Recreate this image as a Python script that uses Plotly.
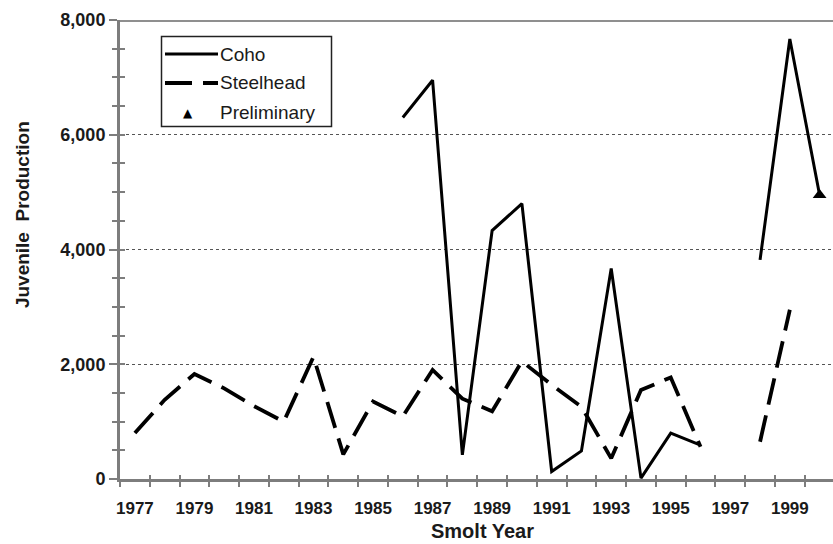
import plotly.graph_objects as go

# Smolt years and juvenile production estimates
years = list(range(1977, 2001))
coho = [None, None, None, None, None, None, None, None, None,
        6300, 6950, 420, 4330, 4800, 130, 490, 3670, 15, 800, 590,
        None, 3820, 7670, 4950]
steelhead = [800, 1380, 1830, 1580, 1270, 1000, 2130, 430, 1350, 1090,
             1900, 1400, 1180, 2050, 1640, 1260, 360, 1550, 1770, 560,
             None, 650, 2950, None]
preliminary_years = [2000]

x_tick_years = list(range(1977, 2000, 2))
x_tick_text = [str(y) for y in x_tick_years]
y_tick_vals = [0, 2000, 4000, 6000, 8000]
y_tick_text = ["0", "2,000", "4,000", "6,000", "8,000"]

prelim_values = [coho[years.index(y)] for y in preliminary_years]

AXIS_GRAY = "#7d7d7d"
FONT = "Liberation Sans, Arial, sans-serif"
NARROW = "Liberation Sans Narrow, Liberation Sans, Arial, sans-serif"

fig = go.Figure()
fig.add_trace(go.Scatter(x=years, y=coho, mode="lines", name="Coho",
                         line=dict(color="black", width=3),
                         connectgaps=False, showlegend=False))
fig.add_trace(go.Scatter(x=years, y=steelhead, mode="lines", name="Steelhead",
                         line=dict(color="black", width=3.8, dash="27px,11px"),
                         connectgaps=False, showlegend=False))
fig.add_trace(go.Scatter(x=preliminary_years, y=prelim_values, mode="markers",
                         name="Preliminary",
                         marker=dict(symbol="triangle-up", size=12, color="black"),
                         showlegend=False))
# invisible trace that carries the inner half of the crossing tick marks
fig.add_trace(go.Scatter(x=[1980], y=[0], xaxis="x2", yaxis="y2", mode="markers",
                         marker=dict(opacity=0), hoverinfo="skip", showlegend=False))

x_range = [1976.5, 2000.45]
y_range = [0, 8000]

fig.update_layout(
    width=833, height=544,
    margin=dict(l=120, r=0, t=20, b=65),
    paper_bgcolor="white", plot_bgcolor="white",
    font=dict(family=FONT, color="#1a1a1a"),
    xaxis=dict(
        range=x_range, tickmode="array", tickvals=x_tick_years, ticktext=x_tick_text,
        ticks="outside", ticklen=12, tickcolor="rgba(0,0,0,0)",
        tickfont=dict(size=17, family=NARROW, color="#1a1a1a", weight="bold"),
        showline=True, linecolor=AXIS_GRAY, linewidth=3,
        showgrid=False, zeroline=False,
        minor=dict(tickmode="linear", tick0=1976.5, dtick=1, ticks="outside",
                   ticklen=5, tickwidth=2, tickcolor=AXIS_GRAY, showgrid=False),
    ),
    yaxis=dict(
        range=y_range, tickmode="array", tickvals=y_tick_vals, ticktext=y_tick_text,
        ticks="outside", ticklen=8, tickwidth=2, tickcolor=AXIS_GRAY,
        tickfont=dict(size=18, family=FONT, color="#1a1a1a", weight="bold"),
        showline=True, linecolor=AXIS_GRAY, linewidth=3,
        showgrid=True, gridcolor="#555555", gridwidth=1.2, griddash="dot",
        zeroline=False,
        minor=dict(tickmode="linear", tick0=0, dtick=500, ticks="outside",
                   ticklen=5, tickwidth=2, tickcolor=AXIS_GRAY, showgrid=False),
    ),
    xaxis2=dict(
        overlaying="x", anchor="y2", range=x_range, showticklabels=False,
        showline=False, showgrid=False, zeroline=False,
        tickmode="linear", tick0=1976.5, dtick=1, ticks="inside",
        ticklen=4, tickwidth=2, tickcolor=AXIS_GRAY,
    ),
    yaxis2=dict(
        overlaying="y", anchor="x2", range=y_range, showticklabels=False,
        showline=False, showgrid=False, zeroline=False,
        tickmode="linear", tick0=0, dtick=500, ticks="inside",
        ticklen=5, tickwidth=2, tickcolor=AXIS_GRAY,
    ),
)

# top frame line at 8,000
fig.add_shape(type="line", xref="paper", yref="y", x0=0, x1=1, y0=8000, y1=8000,
              line=dict(color="#8f8f8f", width=4), layer="above")

# axis titles
fig.add_annotation(text="Smolt Year", xref="paper", yref="paper", x=0.509, y=-0.1133,
                   showarrow=False, yanchor="middle",
                   font=dict(size=20, family=FONT, color="#1a1a1a", weight="bold"))
fig.add_annotation(text="Juvenile  Production", xref="paper", yref="paper",
                   x=-0.1374, y=0.575, textangle=-90, showarrow=False,
                   xanchor="center", yanchor="middle",
                   font=dict(size=19, family=FONT, color="#1a1a1a", weight="bold"))

# legend box
def px_x(px):
    return (px - 120) / 713

def px_y(py):
    return (479 - py) / 459

fig.add_shape(type="rect", xref="paper", yref="paper",
              x0=px_x(161.5), x1=px_x(331.5), y0=px_y(126.5), y1=px_y(36.5),
              line=dict(color="#222222", width=1.5), fillcolor="white", layer="above")
fig.add_shape(type="line", xref="paper", yref="paper",
              x0=px_x(165), x1=px_x(218), y0=px_y(54), y1=px_y(54),
              line=dict(color="black", width=3), layer="above")
fig.add_shape(type="line", xref="paper", yref="paper",
              x0=px_x(165), x1=px_x(218), y0=px_y(83), y1=px_y(83),
              line=dict(color="black", width=3.8, dash="27px,11px"), layer="above")
fig.add_annotation(text="▲", xref="paper", yref="paper", x=px_x(188), y=px_y(113),
                   showarrow=False, xanchor="center", yanchor="middle",
                   font=dict(size=12, family="DejaVu Sans", color="black"))
for label, py in [("Coho", 54), ("Steelhead", 83), ("Preliminary", 113)]:
    fig.add_annotation(text=label, xref="paper", yref="paper", x=px_x(218), y=px_y(py),
                       showarrow=False, xanchor="left", yanchor="middle",
                       font=dict(size=19, family=FONT, color="#1a1a1a"))

fig.write_html("out.html")
